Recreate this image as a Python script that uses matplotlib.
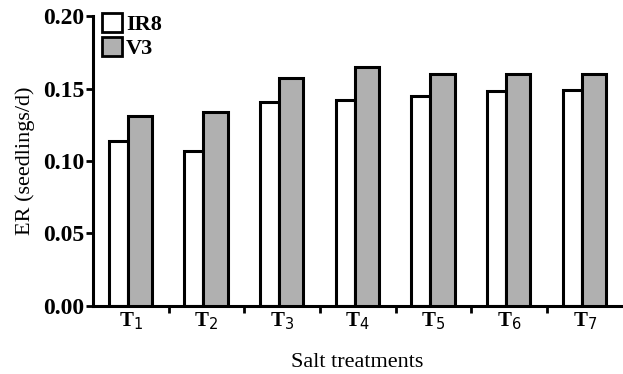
import matplotlib
matplotlib.use("Agg")
import matplotlib.pyplot as plt
import matplotlib.patches as mpatches
import numpy as np

plt.rcParams.update({
    "font.family": "Liberation Serif",
    "font.size": 12,
})

# ── Data ──────────────────────────────────────────────────────────────────────
treatments = ["T$_1$", "T$_2$", "T$_3$", "T$_4$", "T$_5$", "T$_6$", "T$_7$"]
ir8 = [0.114, 0.107, 0.141, 0.142, 0.145, 0.148, 0.149]
v3 = [0.131, 0.134, 0.157, 0.165, 0.160, 0.160, 0.160]
yticks = [0.00, 0.05, 0.10, 0.15, 0.20]

GREY = "#b0b0b0"
EDGE_LW = 2.2

fig = plt.figure(figsize=(6.23, 3.74), dpi=100)
ax = fig.add_axes([0.149, 0.182, 0.848, 0.775])

x = np.arange(len(treatments))
ax.bar(x - 0.165, ir8, width=0.25, color="white", edgecolor="black",
       linewidth=EDGE_LW, zorder=2, label="IR8")
ax.bar(x + 0.12, v3, width=0.32, color=GREY, edgecolor="black",
       linewidth=EDGE_LW, zorder=3, label="V3")

ax.set_xlim(-0.5, 6.48)
ax.set_ylim(0, 0.2)
ax.set_yticks(yticks)
ax.set_yticklabels([f"{v:.2f}" for v in yticks], fontsize=17, fontweight="bold")

# category labels at centres, tick marks at boundaries
ax.set_xticks(x)
ax.set_xticklabels(treatments, fontsize=15, fontweight="bold")
ax.tick_params(axis="x", which="major", length=0, pad=3)
ax.set_xticks(x[:-1] + 0.5, minor=True)
ax.tick_params(axis="x", which="minor", length=5, width=2, direction="out")
ax.tick_params(axis="y", length=5, width=2, pad=1)

for side in ["top", "right"]:
    ax.spines[side].set_visible(False)
for side in ["left", "bottom"]:
    ax.spines[side].set_linewidth(2.2)

ax.set_ylabel("ER (seedlings/d)", fontsize=16, labelpad=6)
ax.set_xlabel("Salt treatments", fontsize=16, labelpad=15)

handles = [
    mpatches.Patch(facecolor="white", edgecolor="black", linewidth=2, label="IR8"),
    mpatches.Patch(facecolor=GREY, edgecolor="black", linewidth=2, label="V3"),
]
ax.legend(handles=handles, loc="upper left", bbox_to_anchor=(0.0, 1.04),
          frameon=False, prop={"family": "Liberation Serif", "weight": "bold", "size": 16},
          handlelength=0.9, handleheight=0.9, handletextpad=0.2,
          labelspacing=0.1, borderaxespad=0.3, borderpad=0.1)

fig.savefig("out.png", dpi=100)
